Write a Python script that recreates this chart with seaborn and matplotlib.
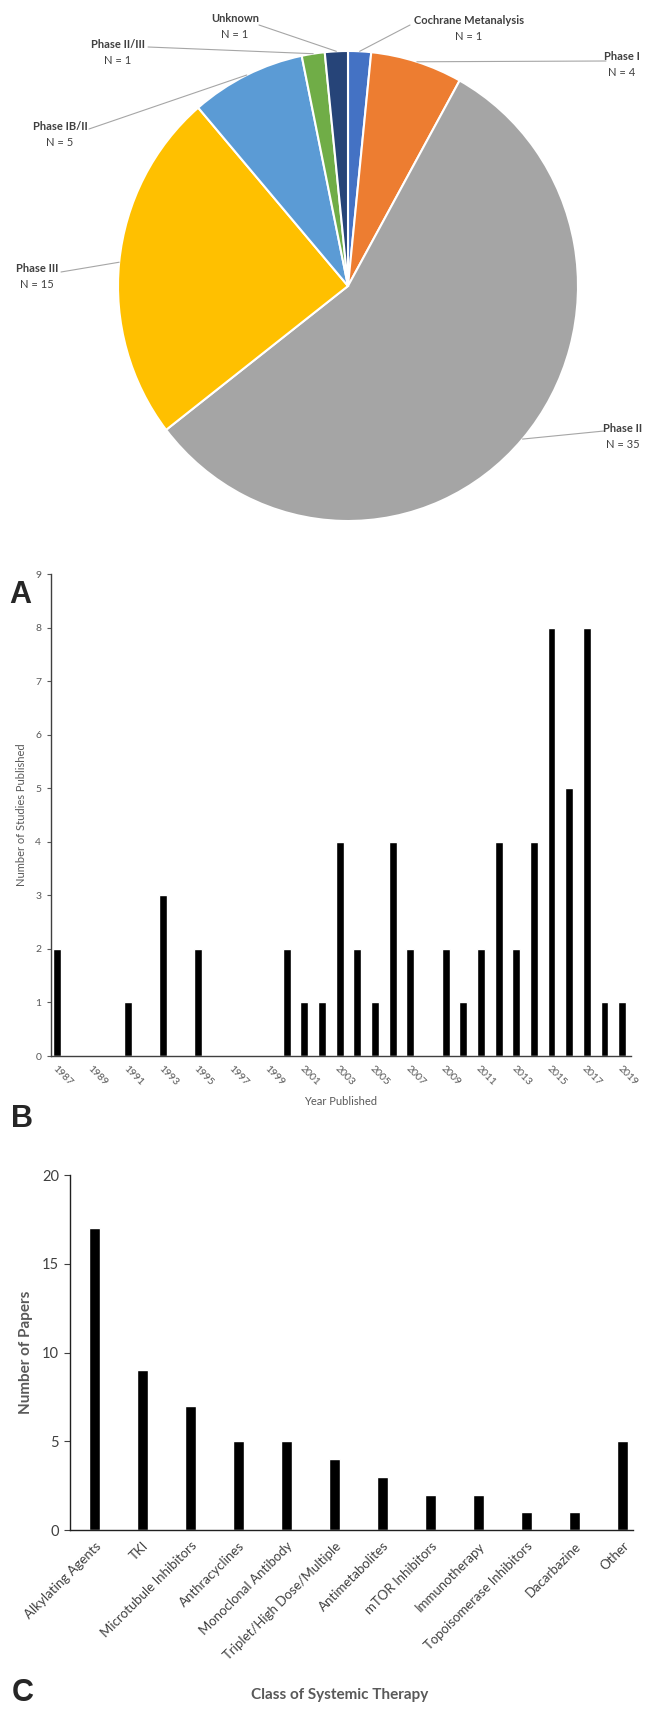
import numpy as np
import pandas as pd
import seaborn as sns
import matplotlib.pyplot as plt
from matplotlib.lines import Line2D

# ---- data ----
phase_labels = ['Cochrane Metanalysis', 'Phase I', 'Phase II', 'Phase III',
                'Phase IB/II', 'Phase II/III', 'Unknown']
phase_counts = [1, 4, 35, 15, 5, 1, 1]
phase_colors = ['#4472C4', '#ED7D31', '#A5A5A5', '#FFC000',
                '#5B9BD5', '#70AD47', '#264478']

years = list(range(1987, 2020))
study_counts = [2, 0, 0, 0, 1, 0, 3, 0, 2, 0, 0, 0, 0, 2, 1, 1, 4,
                2, 1, 4, 2, 0, 2, 1, 2, 4, 2, 4, 8, 5, 8, 1, 1]

therapy_classes = ['Alkylating Agents', 'TKI', 'Microtubule Inhibitors',
                   'Anthracyclines', 'Monoclonal Antibody',
                   'Triplet/High Dose/Multiple', 'Antimetabolites',
                   'mTOR Inhibitors', 'Immunotherapy',
                   'Topoisomerase Inhibitors', 'Dacarbazine', 'Other']
paper_counts = [17, 9, 7, 5, 5, 4, 3, 2, 2, 1, 1, 5]

# label layout for the pie (pixel positions of text, start of leader line)
label_pos = {
    'Cochrane Metanalysis': (469, 20, 410, 25),
    'Phase I': (622, 57, 606, 61),
    'Phase II': (623, 428, 604, 431),
    'Phase III': (37, 268, 61, 272),
    'Phase IB/II': (60, 126, 89, 129),
    'Phase II/III': (118, 44, 148, 47),
    'Unknown': (235, 19, 259, 25),
}

W, H = 657, 1717
sns.set_style('white')
plt.rcParams['font.family'] = ['Lato', 'DejaVu Sans']

fig = plt.figure(figsize=(W / 100, H / 100), dpi=100, facecolor='white')


def px_axes(left, top, right, bottom):
    return fig.add_axes([left / W, 1 - bottom / H, (right - left) / W, (bottom - top) / H])


def fx(x):
    return x / W


def fy(y):
    return 1 - y / H


# ---- panel A: pie ----
cx, cy, rx, ry = 348, 286, 230, 235
ax_a = px_axes(cx - rx, cy - ry, cx + rx, cy + ry)
ax_a.pie(phase_counts, colors=phase_colors, startangle=90, counterclock=False,
         radius=1, frame=True,
         wedgeprops=dict(edgecolor='white', linewidth=1.5))
ax_a.set_xlim(-1, 1)
ax_a.set_ylim(-1, 1)
ax_a.set_aspect('auto')
ax_a.axis('off')

total = sum(phase_counts)
start = 0.0
for lab, n in zip(phase_labels, phase_counts):
    mid = np.deg2rad(start + 180.0 * n / total)
    start += 360.0 * n / total
    ex = cx + rx * np.sin(mid)
    ey = cy - ry * np.cos(mid)
    tx, ty, lx, ly = label_pos[lab]
    fig.add_artist(Line2D([fx(lx), fx(ex)], [fy(ly), fy(ey)],
                          transform=fig.transFigure, color='#A6A6A6', lw=0.8))
    fig.text(fx(tx), fy(ty), lab, ha='center', va='center', fontsize=8,
             fontweight='bold', color='#404040')
    fig.text(fx(tx), fy(ty + 16), f'N = {n}', ha='center', va='center',
             fontsize=8, color='#404040')

fig.text(fx(20), fy(595), 'A', fontsize=22, fontweight='bold',
         family='Liberation Sans', ha='center', va='center')

# ---- panel B: studies per year ----
ax_b = px_axes(51, 574, 631, 1056)
df_b = pd.DataFrame({'year': [str(y) for y in years], 'count': study_counts})
sns.barplot(data=df_b, x='year', y='count', color='black', width=0.45,
            saturation=1, ax=ax_b)
ax_b.set_xlim(-0.34, 32.5)
ax_b.set_ylim(0, 9)
ax_b.set_yticks(range(0, 10))
ax_b.set_xticks(range(0, len(years), 2))
ax_b.set_xticklabels([str(y) for y in years[::2]], rotation=-45,
                     ha='left', rotation_mode='anchor')
ax_b.tick_params(axis='y', length=3, width=0.8, colors='#595959',
                 labelsize=7.5, pad=4, left=True)
ax_b.tick_params(axis='x', length=0, colors='#595959', labelsize=7.5, pad=6)
sns.despine(ax=ax_b)
for s in ['left', 'bottom']:
    ax_b.spines[s].set_color('#404040')
    ax_b.spines[s].set_linewidth(1.0)
ax_b.set_xlabel('Year Published', fontsize=8, color='#595959', labelpad=6)
ax_b.set_ylabel('Number of Studies Published', fontsize=8, color='#595959',
                labelpad=6)
fig.text(fx(22), fy(1119), 'B', fontsize=22, fontweight='bold',
         family='Liberation Sans', ha='center', va='center')

# ---- panel C: classes of therapy ----
ax_c = px_axes(70, 1175, 633, 1530)
df_c = pd.DataFrame({'therapy': therapy_classes, 'papers': paper_counts})
sns.barplot(data=df_c, x='therapy', y='papers', color='black', width=0.23,
            saturation=1, ax=ax_c)
ax_c.set_xlim(-0.51, 11.22)
ax_c.set_ylim(0, 20)
ax_c.set_yticks(range(0, 21, 5))
ax_c.set_xticklabels(therapy_classes, rotation=45, ha='right',
                     rotation_mode='anchor')
ax_c.tick_params(axis='y', length=4, width=0.8, colors='#404040',
                 labelsize=10.5, pad=4, left=True)
ax_c.tick_params(axis='x', length=0, colors='#404040', labelsize=9.5, pad=7)
sns.despine(ax=ax_c)
for s in ['left', 'bottom']:
    ax_c.spines[s].set_color('#202020')
    ax_c.spines[s].set_linewidth(1.0)
ax_c.set_ylabel('Number of Papers', fontsize=11, fontweight='bold',
                color='#595959', labelpad=6)
ax_c.set_xlabel('')
fig.text(fx(340), fy(1695), 'Class of Systemic Therapy', fontsize=11,
         fontweight='bold', color='#595959', ha='center', va='center')
fig.text(fx(23), fy(1693), 'C', fontsize=22, fontweight='bold',
         family='Liberation Sans', ha='center', va='center')

fig.savefig('out.png', dpi=100, facecolor='white')
